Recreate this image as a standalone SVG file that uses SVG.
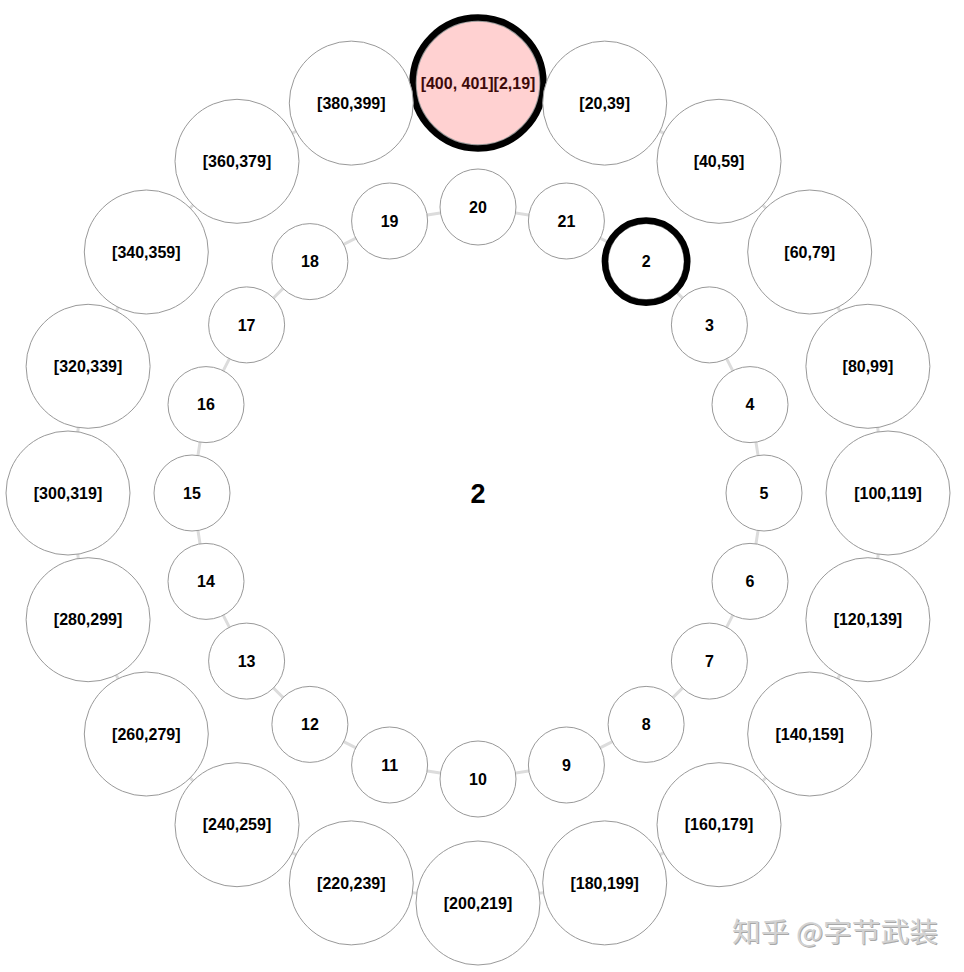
<svg xmlns="http://www.w3.org/2000/svg" width="964" height="972" viewBox="0 0 964 972">
<style>
.bg{fill:#fff}
.link{stroke:#dcdcdc;stroke-width:3;fill:none}
.n{fill:#fff;stroke:#999;stroke-width:1}
.hl{fill:none;stroke:#000;stroke-width:6.5}
.t{font-family:"Liberation Sans",Arial,Helvetica,sans-serif;font-weight:bold;font-size:16px;text-anchor:middle;fill:#000}
.c{font-family:"Liberation Sans",Arial,Helvetica,sans-serif;font-weight:bold;font-size:27px;text-anchor:middle;fill:#000}
.wm{font-family:"Noto Sans CJK SC","Liberation Sans",sans-serif;font-size:27px}
</style>
<rect class="bg" x="0" y="0" width="964" height="972"/>
<g id="connectors">
<polygon class="link" points="478,207 566.4,221 646.1,261.6 709.4,324.9 750,404.6 764,493 750,581.4 709.4,661.1 646.1,724.4 566.4,765 478,779 389.6,765 309.9,724.4 246.6,661.1 206,581.4 192,493 206,404.6 246.6,324.9 309.9,261.6 389.6,221"/>
<polygon class="link" points="478,83 604.7,103.1 719,161.3 809.7,252 867.9,366.3 888,493 867.9,619.7 809.7,734 719,824.7 604.7,882.9 478,903 351.3,882.9 237,824.7 146.3,734 88.1,619.7 68,493 88.1,366.3 146.3,252 237,161.3 351.3,103.1"/>
</g>
<text id="center" class="c" x="478" y="493" dy="0.36em">2</text>
<g id="in20"><circle class="n" cx="478" cy="207" r="38"/><text class="t" x="478" y="207" dy="0.35em">20</text></g>
<g id="in21"><circle class="n" cx="566.4" cy="221" r="38"/><text class="t" x="566.4" y="221" dy="0.35em">21</text></g>
<g id="in2"><circle class="n" cx="646.1" cy="261.6" r="38"/><circle class="hl" cx="646.1" cy="261.6" r="41.2"/><text class="t" x="646.1" y="261.6" dy="0.35em">2</text></g>
<g id="in3"><circle class="n" cx="709.4" cy="324.9" r="38"/><text class="t" x="709.4" y="324.9" dy="0.35em">3</text></g>
<g id="in4"><circle class="n" cx="750" cy="404.6" r="38"/><text class="t" x="750" y="404.6" dy="0.35em">4</text></g>
<g id="in5"><circle class="n" cx="764" cy="493" r="38"/><text class="t" x="764" y="493" dy="0.35em">5</text></g>
<g id="in6"><circle class="n" cx="750" cy="581.4" r="38"/><text class="t" x="750" y="581.4" dy="0.35em">6</text></g>
<g id="in7"><circle class="n" cx="709.4" cy="661.1" r="38"/><text class="t" x="709.4" y="661.1" dy="0.35em">7</text></g>
<g id="in8"><circle class="n" cx="646.1" cy="724.4" r="38"/><text class="t" x="646.1" y="724.4" dy="0.35em">8</text></g>
<g id="in9"><circle class="n" cx="566.4" cy="765" r="38"/><text class="t" x="566.4" y="765" dy="0.35em">9</text></g>
<g id="in10"><circle class="n" cx="478" cy="779" r="38"/><text class="t" x="478" y="779" dy="0.35em">10</text></g>
<g id="in11"><circle class="n" cx="389.6" cy="765" r="38"/><text class="t" x="389.6" y="765" dy="0.35em">11</text></g>
<g id="in12"><circle class="n" cx="309.9" cy="724.4" r="38"/><text class="t" x="309.9" y="724.4" dy="0.35em">12</text></g>
<g id="in13"><circle class="n" cx="246.6" cy="661.1" r="38"/><text class="t" x="246.6" y="661.1" dy="0.35em">13</text></g>
<g id="in14"><circle class="n" cx="206" cy="581.4" r="38"/><text class="t" x="206" y="581.4" dy="0.35em">14</text></g>
<g id="in15"><circle class="n" cx="192" cy="493" r="38"/><text class="t" x="192" y="493" dy="0.35em">15</text></g>
<g id="in16"><circle class="n" cx="206" cy="404.6" r="38"/><text class="t" x="206" y="404.6" dy="0.35em">16</text></g>
<g id="in17"><circle class="n" cx="246.6" cy="324.9" r="38"/><text class="t" x="246.6" y="324.9" dy="0.35em">17</text></g>
<g id="in18"><circle class="n" cx="309.9" cy="261.6" r="38"/><text class="t" x="309.9" y="261.6" dy="0.35em">18</text></g>
<g id="in19"><circle class="n" cx="389.6" cy="221" r="38"/><text class="t" x="389.6" y="221" dy="0.35em">19</text></g>
<g id="out0"><circle cx="478" cy="83" r="62" fill="#ffd1d1" stroke="#999" stroke-width="1.5"/><circle class="hl" cx="478" cy="83" r="65.5"/><text class="t" x="478" y="83" dy="0.35em" style="fill:#3d0a0a">[400, 401][2,19]</text></g>
<g id="out1"><circle class="n" cx="604.7" cy="103.1" r="62"/><text class="t" x="604.7" y="103.1" dy="0.35em">[20,39]</text></g>
<g id="out2"><circle class="n" cx="719" cy="161.3" r="62"/><text class="t" x="719" y="161.3" dy="0.35em">[40,59]</text></g>
<g id="out3"><circle class="n" cx="809.7" cy="252" r="62"/><text class="t" x="809.7" y="252" dy="0.35em">[60,79]</text></g>
<g id="out4"><circle class="n" cx="867.9" cy="366.3" r="62"/><text class="t" x="867.9" y="366.3" dy="0.35em">[80,99]</text></g>
<g id="out5"><circle class="n" cx="888" cy="493" r="62"/><text class="t" x="888" y="493" dy="0.35em">[100,119]</text></g>
<g id="out6"><circle class="n" cx="867.9" cy="619.7" r="62"/><text class="t" x="867.9" y="619.7" dy="0.35em">[120,139]</text></g>
<g id="out7"><circle class="n" cx="809.7" cy="734" r="62"/><text class="t" x="809.7" y="734" dy="0.35em">[140,159]</text></g>
<g id="out8"><circle class="n" cx="719" cy="824.7" r="62"/><text class="t" x="719" y="824.7" dy="0.35em">[160,179]</text></g>
<g id="out9"><circle class="n" cx="604.7" cy="882.9" r="62"/><text class="t" x="604.7" y="882.9" dy="0.35em">[180,199]</text></g>
<g id="out10"><circle class="n" cx="478" cy="903" r="62"/><text class="t" x="478" y="903" dy="0.35em">[200,219]</text></g>
<g id="out11"><circle class="n" cx="351.3" cy="882.9" r="62"/><text class="t" x="351.3" y="882.9" dy="0.35em">[220,239]</text></g>
<g id="out12"><circle class="n" cx="237" cy="824.7" r="62"/><text class="t" x="237" y="824.7" dy="0.35em">[240,259]</text></g>
<g id="out13"><circle class="n" cx="146.3" cy="734" r="62"/><text class="t" x="146.3" y="734" dy="0.35em">[260,279]</text></g>
<g id="out14"><circle class="n" cx="88.1" cy="619.7" r="62"/><text class="t" x="88.1" y="619.7" dy="0.35em">[280,299]</text></g>
<g id="out15"><circle class="n" cx="68" cy="493" r="62"/><text class="t" x="68" y="493" dy="0.35em">[300,319]</text></g>
<g id="out16"><circle class="n" cx="88.1" cy="366.3" r="62"/><text class="t" x="88.1" y="366.3" dy="0.35em">[320,339]</text></g>
<g id="out17"><circle class="n" cx="146.3" cy="252" r="62"/><text class="t" x="146.3" y="252" dy="0.35em">[340,359]</text></g>
<g id="out18"><circle class="n" cx="237" cy="161.3" r="62"/><text class="t" x="237" y="161.3" dy="0.35em">[360,379]</text></g>
<g id="out19"><circle class="n" cx="351.3" cy="103.1" r="62"/><text class="t" x="351.3" y="103.1" dy="0.35em">[380,399]</text></g>
<g id="watermark">
<text class="wm" x="733" y="943" fill="#a8a8a8" textLength="206" lengthAdjust="spacingAndGlyphs">知乎 @字节武装</text>
<text class="wm" x="732" y="942" fill="#d2d2d2" textLength="206" lengthAdjust="spacingAndGlyphs">知乎 @字节武装</text>
</g>
</svg>
